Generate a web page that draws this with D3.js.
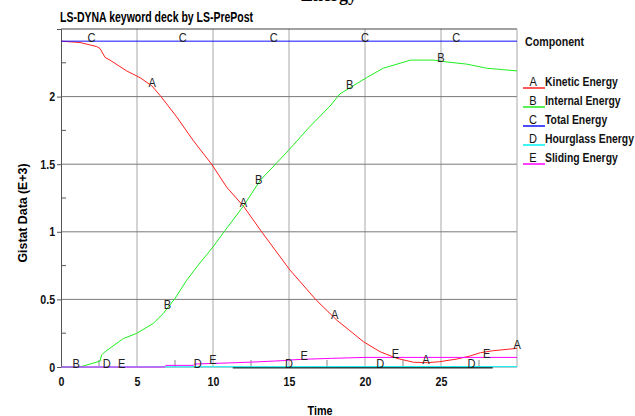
<!DOCTYPE html>
<html>
<head>
<meta charset="utf-8">
<script src="https://cdn.jsdelivr.net/npm/d3@7"></script>
<style>
  body { margin: 0; background: #fff; }
  svg text { font-family: "Liberation Sans Narrow", "Arial Narrow", "Liberation Sans", Arial, sans-serif; }
</style>
</head>
<body>
<svg id="chart" width="635" height="416"></svg>
<script>
// curve data (time, value in E+3)
const kineticT = [0, 1.25, 2.35, 2.57, 2.9, 3.22, 4.32, 5.2, 5.97, 6.51, 7.61, 8.7, 9.91, 10.9, 12.0, 13.2, 15.07, 16.8, 18.14, 19.9, 20.99, 22.1, 23.2, 24.1, 24.9, 26.05, 26.9, 27.6, 28.4, 30];
const kineticV = [2.41, 2.40, 2.37, 2.355, 2.29, 2.27, 2.19, 2.14, 2.08, 2.01, 1.85, 1.675, 1.50, 1.33, 1.19, 1.0, 0.716, 0.494, 0.347, 0.187, 0.113, 0.064, 0.035, 0.032, 0.039, 0.059, 0.081, 0.106, 0.12, 0.138];

const internalT = [0, 1.25, 2.57, 2.67, 2.9, 4.1, 4.98, 6.07, 6.73, 7.5, 8.27, 8.93, 10.0, 10.8, 12.0, 13.1, 14.95, 16.3, 17.7, 18.35, 20.1, 21.2, 23, 24.5, 25.1, 26.7, 28, 30];
const internalV = [0, 0, 0.044, 0.089, 0.113, 0.21, 0.249, 0.322, 0.396, 0.507, 0.642, 0.74, 0.888, 1.011, 1.19, 1.38, 1.60, 1.77, 1.93, 2.02, 2.14, 2.21, 2.27, 2.27, 2.26, 2.24, 2.21, 2.19];

const totalT = [0, 30];
const totalV = [2.41, 2.41];

const hourglassT = [0, 5, 10, 15, 20, 25, 30];
const hourglassV = [0, 0.001, 0.002, 0.002, 0.003, 0.003, 0.003];

const slidingT = [0, 6.8, 6.9, 8.7, 8.8, 11, 12.5, 14.8, 15, 16.2, 17.8, 20, 30];
const slidingV = [0, 0, 0.012, 0.012, 0.022, 0.03, 0.036, 0.048, 0.052, 0.058, 0.064, 0.071, 0.071];

const darkBase = [11.3, 28.4];

const seriesLetters = ["A", "B", "C", "D", "E"];
const seriesNames = ["Kinetic Energy", "Internal Energy", "Total Energy", "Hourglass Energy", "Sliding Energy"];
const seriesColors = ["#ff2020", "#20ee20", "#1010ff", "#00f0f0", "#ff00ff"];
const labelStart = [0, 1, 2, 3, 4];   // curve letters every 6 time units from here

const xTicks = [0, 5, 10, 15, 20, 25];
const yTicks = [0, 0.5, 1, 1.5, 2];

const svg = d3.select('#chart');

const pLeft = 61, pRight = 517, pTop = 29, pBottom = 367;

let x = d3.scaleLinear().domain([0, 30]).range([pLeft, pRight]);
let y = d3.scaleLinear().domain([0, 2.5]).range([pBottom, pTop]);

let series = [
  {t: kineticT, v: kineticV},
  {t: internalT, v: internalV},
  {t: totalT, v: totalV},
  {t: hourglassT, v: hourglassV},
  {t: slidingT, v: slidingV}
].map((s, i) => ({
  letter: seriesLetters[i],
  name: seriesNames[i],
  color: seriesColors[i],
  start: labelStart[i],
  pts: s.t.map((t, j) => [t, s.v[j]])
}));

// no narrow font installed, so squeeze the text horizontally
function squeeze(sel, k, origin) {
  sel.style('transform-box', 'fill-box')
    .style('transform-origin', origin)
    .style('transform', `scaleX(${k})`);
}

// clipped title above the frame
svg.append('text')
  .attr('x', 357).attr('y', 1)
  .attr('text-anchor', 'end')
  .style('font-family', '"Liberation Serif", serif')
  .style('font-weight', 'bold')
  .style('font-size', '18px')
  .text('Energy');

svg.append('text')
  .attr('x', 60).attr('y', 22)
  .style('font-weight', 'bold')
  .style('font-size', '14px')
  .text('LS-DYNA keyword deck by LS-PrePost')
  .call(squeeze, 0.75, 'left');

// grid
svg.append('g').selectAll('line')
  .data(d3.range(5, 30, 5))
  .enter().append('line')
  .attr('x1', d => x(d)).attr('x2', d => x(d))
  .attr('y1', pTop).attr('y2', pBottom)
  .attr('stroke', '#a8a8a8');

svg.append('g').selectAll('line')
  .data(yTicks.filter(d => d > 0))
  .enter().append('line')
  .attr('x1', pLeft).attr('x2', pRight)
  .attr('y1', d => y(d)).attr('y2', d => y(d))
  .attr('stroke', '#7a7a7a');

// minor ticks
svg.append('g').selectAll('line')
  .data(d3.range(2.5, 30, 5))
  .enter().append('line')
  .attr('x1', d => x(d)).attr('x2', d => x(d))
  .attr('y1', pBottom - 7).attr('y2', pBottom)
  .attr('stroke', '#888');

svg.append('g').selectAll('line')
  .data(d3.range(0.25, 2.5, 0.5))
  .enter().append('line')
  .attr('x1', pLeft).attr('x2', pLeft + 5)
  .attr('y1', d => y(d)).attr('y2', d => y(d))
  .attr('stroke', '#555');

// frame
svg.append('line').attr('x1', pLeft).attr('x2', pRight).attr('y1', pTop).attr('y2', pTop)
  .attr('stroke', '#444').attr('stroke-width', 1.2);
svg.append('line').attr('x1', pRight).attr('x2', pRight).attr('y1', pTop).attr('y2', pBottom)
  .attr('stroke', '#a8a8a8');
svg.append('line').attr('x1', pLeft).attr('x2', pRight).attr('y1', pBottom + 0.5).attr('y2', pBottom + 0.5)
  .attr('stroke', '#c8c8c8');
svg.append('line').attr('x1', x(darkBase[0])).attr('x2', x(darkBase[1]))
  .attr('y1', pBottom + 0.8).attr('y2', pBottom + 0.8)
  .attr('stroke', '#333').attr('stroke-width', 1.6);

// axes
let yAxis = svg.append('g')
  .attr('transform', `translate(${pLeft},0)`)
  .call(d3.axisLeft(y).tickValues(yTicks).tickSize(4).tickPadding(2).tickFormat(d3.format('')));
yAxis.select('.domain').attr('stroke', '#555');
yAxis.selectAll('.tick line').attr('stroke', '#555');
yAxis.selectAll('text').style('font-size', '13px').style('font-weight', 'bold').attr('fill', '#111')
  .call(squeeze, 0.82, 'right');

let xAxis = svg.append('g')
  .attr('transform', `translate(0,${pBottom})`)
  .call(d3.axisBottom(x).tickValues(xTicks).tickSize(0).tickPadding(10));
xAxis.select('.domain').remove();
xAxis.selectAll('text').style('font-size', '13px').style('font-weight', 'bold').attr('fill', '#111')
  .call(squeeze, 0.82, 'center');

svg.append('text')
  .attr('transform', 'translate(27,213) rotate(-90) scale(0.95,1)')
  .attr('text-anchor', 'middle')
  .style('font-weight', 'bold')
  .style('font-size', '13px')
  .text('Gistat Data (E+3)');

svg.append('text')
  .attr('x', 320).attr('y', 415)
  .attr('text-anchor', 'middle')
  .style('font-weight', 'bold')
  .style('font-size', '12px')
  .text('Time')
  .call(squeeze, 0.9, 'center');

// curves
let line = d3.line().x(d => x(d[0])).y(d => y(d[1]));

svg.append('g').selectAll('path')
  .data(series)
  .enter().append('path')
  .attr('d', d => line(d.pts))
  .attr('fill', 'none')
  .attr('stroke', d => d.color)
  .attr('stroke-width', 1);

// curve letters
function valueAt(pts, t) {
  let ts = pts.map(p => p[0]), vs = pts.map(p => p[1]);
  let i = d3.bisectRight(ts, t);
  if (i <= 0) return vs[0];
  if (i >= ts.length) return vs[vs.length - 1];
  let f = (t - ts[i - 1]) / (ts[i] - ts[i - 1]);
  return vs[i - 1] + f * (vs[i] - vs[i - 1]);
}

series.forEach(s => {
  let times = d3.range(s.start, 30.01, 6).filter(t => t > 0.5);
  svg.append('g').selectAll('text')
    .data(times)
    .enter().append('text')
    .attr('x', t => x(t))
    .attr('y', t => y(valueAt(s.pts, t)) + 1)
    .attr('text-anchor', 'middle')
    .style('font-size', '13px')
    .attr('fill', '#222')
    .text(s.letter)
    .call(squeeze, 0.85, 'center');
});

// legend
svg.append('text')
  .attr('x', 525).attr('y', 46)
  .style('font-size', '13px')
  .style('font-weight', 'bold')
  .attr('fill', '#111')
  .text('Component')
  .call(squeeze, 0.82, 'left');

let legend = svg.append('g').selectAll('g')
  .data(series)
  .enter().append('g')
  .attr('transform', (d, i) => `translate(523,${86 + i * 19})`);

legend.append('line')
  .attr('x1', 0).attr('x2', 22).attr('y1', 2).attr('y2', 2)
  .attr('stroke', d => d.color).attr('stroke-width', 1.5);

legend.append('text')
  .attr('x', 10).attr('y', 0)
  .attr('text-anchor', 'middle')
  .style('font-size', '13px')
  .attr('fill', '#111')
  .text(d => d.letter)
  .call(squeeze, 0.85, 'center');

legend.append('text')
  .attr('x', 22).attr('y', 0)
  .style('font-size', '13px')
  .style('font-weight', 'bold')
  .attr('fill', '#111')
  .text(d => d.name)
  .call(squeeze, 0.8, 'left');
</script>
</body>
</html>
